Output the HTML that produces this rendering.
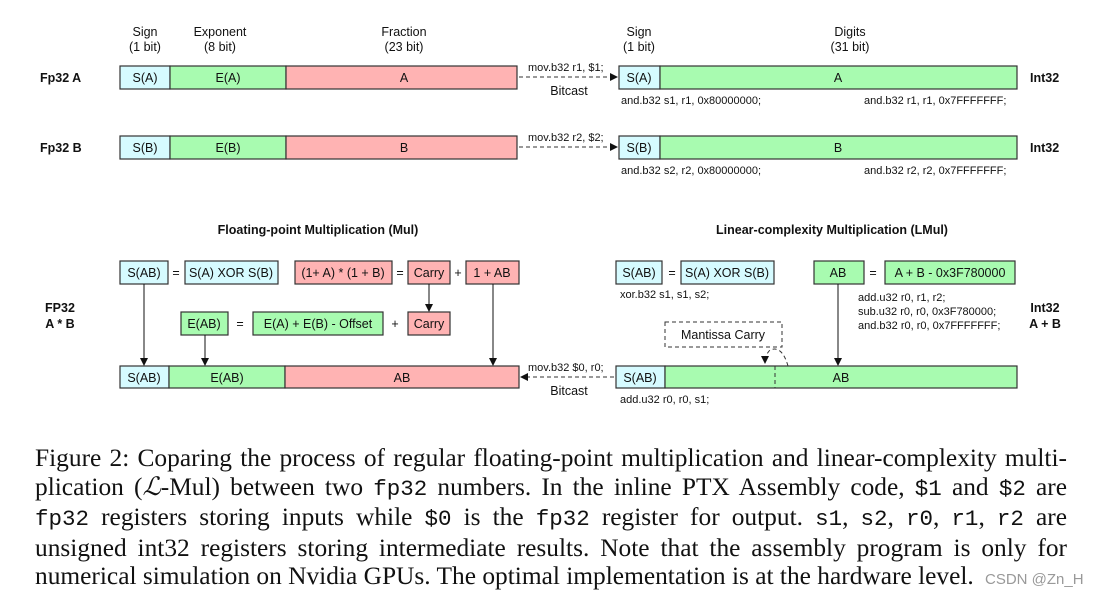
<!DOCTYPE html>
<html><head><meta charset="utf-8"><style>
body{margin:0;background:#fff;width:1119px;height:601px;overflow:hidden;position:relative}
svg{position:absolute;left:0;top:0}
svg text{font-family:"Liberation Sans",sans-serif;font-size:12.5px;fill:#111}
.cap{position:absolute;left:35px;width:1032px;font-family:"Liberation Serif",serif;font-size:25.4px;line-height:28.5px;top:444px;color:#111}
.cap div{text-align:justify;text-align-last:justify;white-space:nowrap}
.cap div.l{text-align-last:left}
.m{font-family:"Liberation Mono",monospace;font-size:22.5px}
</style></head><body>
<svg width="1119" height="601" viewBox="0 0 1119 601">
<defs><marker id="ar" markerWidth="8" markerHeight="8" refX="7" refY="4" orient="auto" markerUnits="userSpaceOnUse"><path d="M0,0 L8,4 L0,8 z" fill="#111"/></marker></defs>
<g stroke="#333" stroke-width="1.2">
<rect x="120" y="66" width="50" height="23" fill="#d6fbff"/><rect x="170" y="66" width="116" height="23" fill="#a8fbb0"/><rect x="286" y="66" width="231" height="23" fill="#ffb3b3"/>
<rect x="619" y="66" width="41" height="23" fill="#d6fbff"/><rect x="660" y="66" width="357" height="23" fill="#a8fbb0"/>
<rect x="120" y="136" width="50" height="23" fill="#d6fbff"/><rect x="170" y="136" width="116" height="23" fill="#a8fbb0"/><rect x="286" y="136" width="231" height="23" fill="#ffb3b3"/>
<rect x="619" y="136" width="41" height="23" fill="#d6fbff"/><rect x="660" y="136" width="357" height="23" fill="#a8fbb0"/>
<rect x="120" y="261" width="48" height="23" fill="#d6fbff"/><rect x="185" y="261" width="93" height="23" fill="#d6fbff"/>
<rect x="295" y="261" width="97" height="23" fill="#ffb3b3"/><rect x="408" y="261" width="42" height="23" fill="#ffb3b3"/><rect x="466" y="261" width="53" height="23" fill="#ffb3b3"/>
<rect x="181" y="312" width="47" height="23" fill="#a8fbb0"/><rect x="253" y="312" width="130" height="23" fill="#a8fbb0"/><rect x="408" y="312" width="42" height="23" fill="#ffb3b3"/>
<rect x="120" y="366" width="49" height="22" fill="#d6fbff"/><rect x="169" y="366" width="116" height="22" fill="#a8fbb0"/><rect x="285" y="366" width="234" height="22" fill="#ffb3b3"/>
<rect x="616" y="261" width="46" height="23" fill="#d6fbff"/><rect x="681" y="261" width="93" height="23" fill="#d6fbff"/>
<rect x="814" y="261" width="50" height="23" fill="#a8fbb0"/><rect x="885" y="261" width="130" height="23" fill="#a8fbb0"/>
<rect x="616" y="366" width="49" height="22" fill="#d6fbff"/><rect x="665" y="366" width="352" height="22" fill="#a8fbb0"/>
</g>
<g stroke="#333" stroke-width="1" fill="none" stroke-dasharray="4,3">
<line x1="665" y1="366" x2="665" y2="388"/><line x1="775" y1="366" x2="775" y2="388"/>
<rect x="665" y="322" width="117" height="25"/>
<path d="M788,366 Q782,345 770,350 Q765,355 765,363" marker-end="url(#ar)"/>
<line x1="519" y1="77" x2="617" y2="77" marker-end="url(#ar)"/>
<line x1="519" y1="147" x2="617" y2="147" marker-end="url(#ar)"/>
<line x1="614" y1="377" x2="521" y2="377" marker-end="url(#ar)"/>
</g>
<g stroke="#111" stroke-width="1" marker-end="url(#ar)">
<line x1="144" y1="284" x2="144" y2="365"/><line x1="205" y1="335" x2="205" y2="365"/>
<line x1="429" y1="284" x2="429" y2="311"/><line x1="493" y1="284" x2="493" y2="365"/>
<line x1="838" y1="284" x2="838" y2="365"/>
</g>
<g text-anchor="middle">
<text x="145" y="36">Sign</text><text x="145" y="51">(1 bit)</text>
<text x="220" y="36">Exponent</text><text x="220" y="51">(8 bit)</text>
<text x="404" y="36">Fraction</text><text x="404" y="51">(23 bit)</text>
<text x="639" y="36">Sign</text><text x="639" y="51">(1 bit)</text>
<text x="850" y="36">Digits</text><text x="850" y="51">(31 bit)</text>
<text x="145" y="82">S(A)</text><text x="228" y="82">E(A)</text><text x="404" y="82">A</text>
<text x="639" y="82">S(A)</text><text x="838" y="82">A</text>
<text x="145" y="152">S(B)</text><text x="228" y="152">E(B)</text><text x="404" y="152">B</text>
<text x="639" y="152">S(B)</text><text x="838" y="152">B</text>
<text x="144" y="277">S(AB)</text><text x="176" y="277">=</text><text x="231" y="277">S(A) XOR S(B)</text>
<text x="343" y="277">(1+ A) * (1 + B)</text><text x="400" y="277">=</text><text x="429" y="277">Carry</text><text x="458" y="277">+</text><text x="492" y="277">1 + AB</text>
<text x="204" y="328">E(AB)</text><text x="240" y="328">=</text><text x="318" y="328">E(A) + E(B) - Offset</text><text x="395" y="328">+</text><text x="429" y="328">Carry</text>
<text x="144" y="382">S(AB)</text><text x="227" y="382">E(AB)</text><text x="402" y="382">AB</text>
<text x="639" y="277">S(AB)</text><text x="672" y="277">=</text><text x="727" y="277">S(A) XOR S(B)</text>
<text x="838" y="277">AB</text><text x="873" y="277">=</text><text x="950" y="277">A + B - 0x3F780000</text>
<text x="723" y="339">Mantissa Carry</text>
<text x="640" y="382">S(AB)</text><text x="841" y="382">AB</text>
<text x="569" y="95">Bitcast</text><text x="569" y="395">Bitcast</text>
<text x="318" y="234" font-weight="bold" font-size="12px">Floating-point Multiplication (Mul)</text>
<text x="832" y="234" font-weight="bold" font-size="12px">Linear-complexity Multiplication (LMul)</text>
<text x="1045" y="312" font-weight="bold">Int32</text><text x="1045" y="328" font-weight="bold">A + B</text>
<text x="60" y="312" font-weight="bold">FP32</text><text x="60" y="328" font-weight="bold">A * B</text>
</g>
<g>
<text x="528" y="71" style="font-size:11px">mov.b32 r1, $1;</text>
<text x="528" y="141" style="font-size:11px">mov.b32 r2, $2;</text>
<text x="528" y="371" style="font-size:11px">mov.b32 $0, r0;</text>
<text x="621" y="104" style="font-size:11px">and.b32 s1, r1, 0x80000000;</text>
<text x="864" y="104" style="font-size:11px">and.b32 r1, r1, 0x7FFFFFFF;</text>
<text x="621" y="174" style="font-size:11px">and.b32 s2, r2, 0x80000000;</text>
<text x="864" y="174" style="font-size:11px">and.b32 r2, r2, 0x7FFFFFFF;</text>
<text x="620" y="298" style="font-size:11px">xor.b32 s1, s1, s2;</text>
<text x="858" y="301" style="font-size:11px">add.u32 r0, r1, r2;</text>
<text x="858" y="315" style="font-size:11px">sub.u32 r0, r0, 0x3F780000;</text>
<text x="858" y="329" style="font-size:11px">and.b32 r0, r0, 0x7FFFFFFF;</text>
<text x="620" y="403" style="font-size:11px">add.u32 r0, r0, s1;</text>
</g>
<g>
<text x="40" y="82" style="font-weight:bold">Fp32 A</text><text x="40" y="152" style="font-weight:bold">Fp32 B</text>
<text x="1030" y="82" style="font-weight:bold">Int32</text><text x="1030" y="152" style="font-weight:bold">Int32</text>
</g>
</svg>
<div class="cap">
<div>Figure 2: Coparing the process of regular floating-point multiplication and linear-complexity multi-</div>
<div>plication (<i>ℒ</i>-Mul) between two <span class="m">fp32</span> numbers. In the inline PTX Assembly code, <span class="m">$1</span> and <span class="m">$2</span> are</div>
<div><span class="m">fp32</span> registers storing inputs while <span class="m">$0</span> is the <span class="m">fp32</span> register for output. <span class="m">s1</span>, <span class="m">s2</span>, <span class="m">r0</span>, <span class="m">r1</span>, <span class="m">r2</span> are</div>
<div>unsigned int32 registers storing intermediate results. Note that the assembly program is only for</div>
<div class="l">numerical simulation on Nvidia GPUs. The optimal implementation is at the hardware level.</div>
</div>
<div style="position:absolute;left:985px;top:571px;font-family:'Liberation Sans',sans-serif;font-size:15px;color:#999">CSDN @Zn_H</div>
</body></html>
